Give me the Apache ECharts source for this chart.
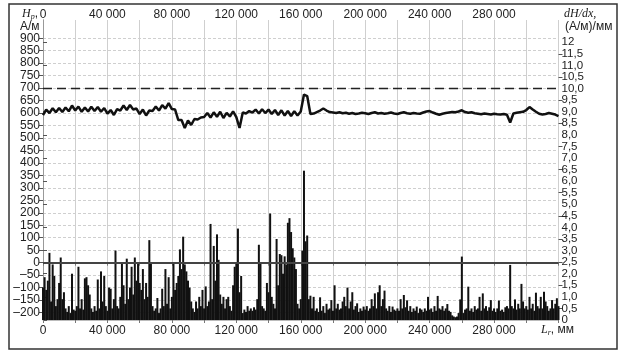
<!DOCTYPE html>
<html>
<head>
<meta charset="utf-8">
<script src="https://cdn.jsdelivr.net/npm/echarts@6/dist/echarts.min.js"></script>
<style>
html,body{margin:0;padding:0;background:#fff;}
#main{width:627px;height:357px;}
</style>
</head>
<body>
<div id="main"></div>
<script>
// Hp, A/m - step 2000 mm
var hpStep = 2000;
var hpValues = [
	592, 614, 600, 619, 603, 620, 604, 622, 607, 630,
	610, 626, 605, 622, 606, 625, 608, 624, 605, 620,
	598, 612, 592, 616, 610, 630, 612, 632, 614, 618,
	596, 614, 590, 610, 608, 626, 610, 632, 618, 640,
	616, 614, 572, 572, 540, 570, 552, 576, 574, 582,
	584, 600, 582, 603, 585, 605, 580, 601, 586, 607,
	584, 540, 602, 598, 608, 602, 614, 598, 615, 600,
	614, 596, 612, 592, 611, 590, 608, 588, 607, 590,
	606, 674, 668, 596, 598, 604, 610, 618, 610, 604,
	602, 600, 603, 599, 601, 597, 600, 596, 598, 601,
	599, 596, 600, 603, 598, 600, 597, 599, 602, 598,
	596, 600, 603, 599, 597, 600, 598, 597, 602, 606,
	608, 602, 597, 593, 597, 600, 602, 604, 603, 606,
	611, 604, 601, 603, 599, 597, 595, 598, 596, 594,
	597, 595, 594, 596, 593, 562, 598, 601, 603, 605,
	612, 624, 614, 605, 597, 594, 596, 600, 597, 594,
	588
];

// dH/dx, (A/m)/mm - step 1000 mm
var dStep = 1000;
var dhdxValues = [
	1.4, 1.85, 1.3, 1.7, 2.9, 0.8, 2.4, 1.9, 0.6, 0.9,
	1.6, 2.7, 0.9, 1.2, 0.5, 0.35, 0.6, 0.3, 2.0, 0.45,
	0.4, 0.6, 2.3, 0.5, 0.9, 0.45, 1.8, 1.85, 1.5, 1.1,
	0.5, 0.35, 0.6, 0.4, 1.75, 0.5, 2.1, 0.8, 1.9, 0.6,
	0.4, 1.4, 1.35, 0.5, 0.9, 3.0, 0.6, 0.5, 1.0, 2.5,
	1.5, 0.7, 2.65, 0.9, 1.4, 2.3, 1.1, 2.7, 1.7, 2.45,
	1.6, 1.3, 2.2, 0.9, 1.6, 1.0, 3.45, 2.5, 0.6, 0.4,
	0.5, 0.95, 0.3, 0.5, 1.35, 0.6, 2.2, 0.7, 1.85, 0.5,
	1.0, 2.5, 1.3, 1.6, 1.9, 3.05, 2.2, 3.6, 2.4, 2.1,
	1.7, 1.4, 0.8, 0.5, 0.35, 0.8, 0.5, 1.0, 0.6, 1.3,
	0.5, 1.45, 0.6, 0.8, 4.15, 0.9, 3.2, 1.7, 3.7, 2.6,
	1.1, 0.7, 1.0, 0.5, 0.9, 1.0, 0.6, 0.4, 1.5, 2.3,
	2.45, 3.95, 1.2, 1.9, 0.3, 0.45, 0.35, 0.6, 0.4, 0.5,
	0.4, 0.55, 0.45, 0.9, 3.25, 2.45, 0.6, 0.5, 0.4, 1.6,
	1.2, 4.6, 1.0, 0.7, 0.5, 3.5, 1.5, 2.85, 2.8, 2.0,
	2.75, 2.4, 4.2, 4.4, 3.8, 3.1, 2.7, 2.2, 0.7, 0.5,
	0.9, 3.0, 6.45, 3.4, 3.65, 0.9, 1.05, 0.5, 1.0, 0.4,
	0.5, 0.35, 0.98, 0.4, 0.6, 0.3, 0.7, 0.45, 0.5, 0.86,
	0.4, 1.5, 0.5, 0.7, 0.45, 0.5, 0.8, 1.0, 0.6, 1.4,
	0.5, 0.8, 1.2, 0.45, 0.6, 0.72, 0.35, 0.5, 0.4, 0.58,
	0.45, 0.6, 0.4, 0.5, 0.9, 0.6, 1.15, 0.5, 1.2, 1.5,
	0.6, 0.9, 1.27, 0.5, 0.4, 0.6, 0.35, 0.58, 0.45, 0.4,
	0.5, 0.4, 0.9, 0.5, 1.08, 0.55, 0.85, 0.4, 0.6, 0.35,
	0.5, 0.4, 0.58, 0.3, 0.5, 0.45, 0.35, 0.5, 0.4, 1.0,
	0.45, 0.5, 0.35, 0.6, 0.4, 1.04, 0.5, 0.45, 0.6, 0.4,
	0.5, 0.69, 0.4, 0.35, 0.2, 0.15, 0.12, 0.15, 0.3, 0.89,
	2.74, 0.3, 0.45, 0.5, 1.44, 0.4, 0.5, 0.35, 0.6, 0.45,
	0.5, 1.0, 0.4, 1.15, 0.5, 0.6, 0.4, 0.55, 0.86, 0.4,
	0.5, 0.35, 0.5, 0.84, 0.4, 0.45, 0.35, 0.55, 0.6, 0.5,
	2.38, 0.6, 0.5, 0.89, 0.45, 0.7, 0.5, 1.56, 0.8, 0.5,
	0.6, 0.45, 1.0, 0.5, 0.7, 0.4, 1.18, 0.6, 0.5, 1.0,
	0.5, 1.22, 0.8, 0.6, 0.4, 0.5, 0.86, 0.5, 0.7, 0.94,
	0.6
];

// подписи осей
var leftTicks = [-200, -150, -100, -50, 0, 50, 100, 150, 200, 250, 300, 350, 400, 450, 500, 550, 600, 650, 700, 750, 800, 850, 900];
var rightTicksA = [0, 1, 2, 3, 4, 5, 6, 7, 8, 9, 10, 11, 12];
var rightTicksB = [0.5, 1.5, 2.5, 3.5, 4.5, 5.5, 6.5, 7.5, 8.5, 9.5, 10.5, 11.5];
var hpLimit = 700;   // пунктир
var hpZero = 0;

var font = 'Liberation Sans, Arial, sans-serif';
var rMin = 0, rMax = 12.96;

function fmtL(v) {
	if(v % 40000 != 0 || v > 280000) return '';
	return String(v).replace(/\B(?=(\d{3})+(?!\d))/g, ' ');
}
function fmtR(v) {
	if(v == 12) return '12';
	if(v == 0) return '0';
	return Number(v).toFixed(1).replace('.', ',');
}

var hpData = [];
for(var i = 0; i < hpValues.length; i++) {
	hpData.push([i * hpStep, hpValues[i]]);
}
var dData = [];
for(var j = 0; j < dhdxValues.length; j++) {
	dData.push([j * dStep, dhdxValues[j]]);
}

var myChart = echarts.init(document.getElementById('main'));
var option = {
	animation: false,
	backgroundColor: '#fff',
	grid: { left: 43, right: 68.5, top: 20, bottom: 37, containLabel: false },
	xAxis: [{
		type: 'value',
		position: 'bottom',
		min: 0,
		max: 320000,
		interval: 20000,
		axisLine: { show: true, lineStyle: { color: '#999', width: 1 } },
		axisLabel: { formatter: fmtL, color: '#222', fontFamily: font, fontSize: 12, margin: 5 },
		axisTick: { show: true, length: 3, lineStyle: { color: '#777' } },
		splitLine: { show: true, lineStyle: { color: '#cfcfcf', width: 1 } }
	}, {
		type: 'value',
		position: 'top',
		min: 0,
		max: 320000,
		interval: 20000,
		axisLine: { show: true, lineStyle: { color: '#bbb', width: 1 } },
		axisLabel: { formatter: fmtL, color: '#222', fontFamily: font, fontSize: 12, lineHeight: 9, margin: 1 },
		axisTick: { show: true, inside: true, length: 3, lineStyle: { color: '#777' } },
		splitLine: { show: false }
	}],
	yAxis: [{
		type: 'value',
		position: 'left',
		min: -229.8,
		max: 973,
		axisLine: { show: true, lineStyle: { color: '#999' } },
		axisTick: { show: true, length: 4, customValues: leftTicks, lineStyle: { color: '#555' } },
		axisLabel: {
			customValues: leftTicks,
			showMinLabel: true, showMaxLabel: true,
			color: '#222', fontFamily: font, fontSize: 12, lineHeight: 11, margin: 3,
			formatter: function(v) { return String(v).replace('-', '–'); }
		},
		splitLine: { show: true, lineStyle: { color: '#cfcfcf', width: 1, type: [3, 2] } }
	}, {
		// правая ось, целые значения
		type: 'value',
		position: 'right',
		min: rMin,
		max: rMax,
		axisLine: { show: true, lineStyle: { color: '#999' } },
		axisTick: { show: true, length: 4, customValues: rightTicksA, lineStyle: { color: '#555' } },
		axisLabel: {
			customValues: rightTicksA,
			showMinLabel: true, showMaxLabel: true,
			color: '#222', fontFamily: font, fontSize: 11.5, margin: 3,
			formatter: fmtR
		},
		splitLine: { show: false }
	}, {
		// правая ось, половинки
		type: 'value',
		position: 'right',
		offset: 0,
		min: rMin,
		max: rMax,
		axisLine: { show: false },
		axisTick: { show: true, length: 4, customValues: rightTicksB, lineStyle: { color: '#555' } },
		axisLabel: {
			customValues: rightTicksB,
			showMinLabel: true, showMaxLabel: true,
			color: '#222', fontFamily: font, fontSize: 11.5, margin: 3,
			formatter: fmtR
		},
		splitLine: { show: false }
	}],
	series: [{
		name: 'dH/dx',
		type: 'bar',
		xAxisIndex: 0,
		yAxisIndex: 1,
		barWidth: 2,
		data: dData,
		itemStyle: { color: '#111' },
		z: 2
	}, {
		name: 'Hp',
		type: 'line',
		xAxisIndex: 0,
		yAxisIndex: 0,
		data: hpData,
		symbol: 'none',
		lineStyle: { color: '#111', width: 2.5 },
		z: 3,
		markLine: {
			silent: true,
			symbol: 'none',
			label: { show: false },
			data: [
				{ yAxis: hpLimit, lineStyle: { color: '#222', width: 1.3, type: [9, 5] } },
				{ yAxis: hpZero, lineStyle: { color: '#444', width: 1.8, type: 'solid' } }
			]
		}
	}],
	graphic: [{
		type: 'rect',
		shape: { x: 9, y: 4, width: 608, height: 345 },
		style: { fill: null, stroke: '#333', lineWidth: 1.5 },
		silent: true
	}, {
		type: 'text', left: 22, top: 8,
		style: {
			text: '{i|H}{s|р}{n|,}',
			rich: {
				i: { fontFamily: 'Liberation Serif, serif', fontStyle: 'italic', fontSize: 12, fill: '#222' },
				s: { fontFamily: 'Liberation Serif, serif', fontStyle: 'italic', fontSize: 8, fill: '#222', padding: [6, 0, 0, 0] },
				n: { fontFamily: font, fontSize: 12, fill: '#222' }
			}
		}
	}, {
		type: 'text', left: 20, top: 21,
		style: { text: 'А/м', font: '12px ' + font, fill: '#222' }
	}, {
		type: 'text', left: 564, top: 8,
		style: { text: 'dH/dx,', font: 'italic 12px Liberation Serif, serif', fill: '#222' }
	}, {
		type: 'text', left: 565, top: 21,
		style: { text: '(А/м)/мм', font: '12px ' + font, fill: '#222' }
	}, {
		type: 'text', left: 541, top: 324,
		style: {
			text: '{i|L}{s|r}{n|, мм}',
			rich: {
				i: { fontFamily: 'Liberation Serif, serif', fontStyle: 'italic', fontSize: 12, fill: '#222' },
				s: { fontFamily: 'Liberation Serif, serif', fontStyle: 'italic', fontSize: 8, fill: '#222', padding: [6, 0, 0, 0] },
				n: { fontFamily: font, fontSize: 12, fill: '#222' }
			}
		}
	}]
};
myChart.setOption(option);
</script>
</body>
</html>
